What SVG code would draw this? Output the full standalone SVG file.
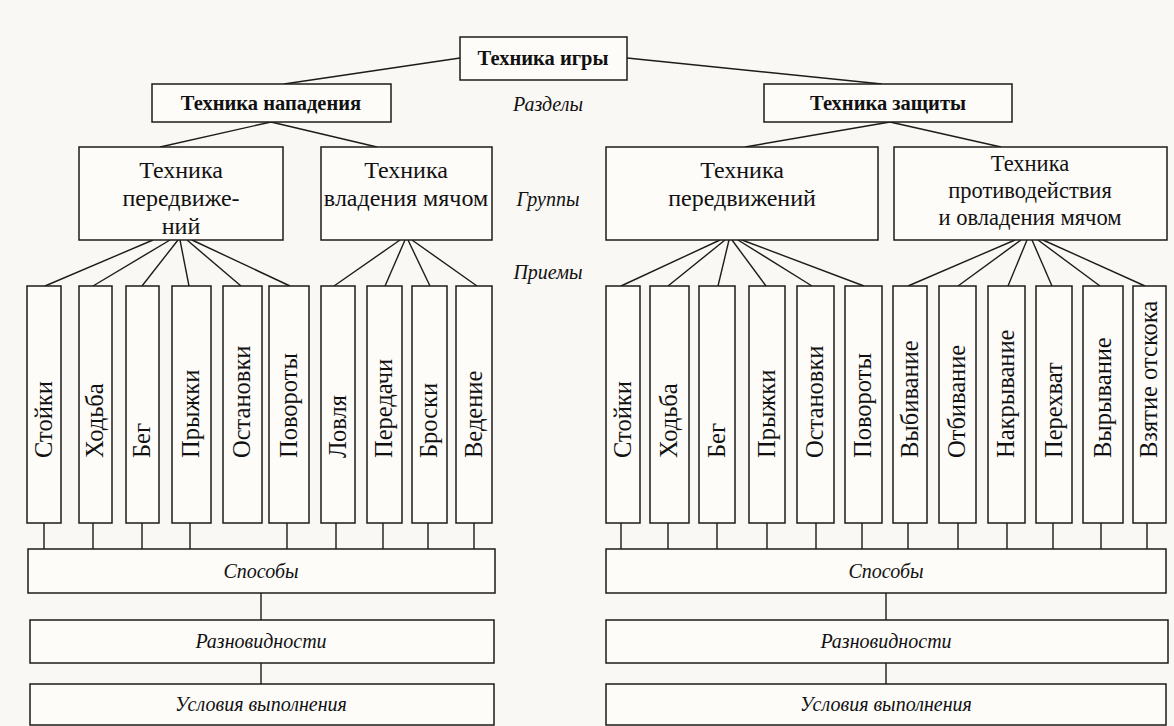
<svg xmlns="http://www.w3.org/2000/svg" width="1174" height="726" viewBox="0 0 1174 726">
<style>
.b{fill:#fdfcf9;stroke:#1e1b18;stroke-width:1.5}
.c line,.c path{stroke:#1e1b18;stroke-width:1.4;fill:none}
.tb{font-family:"Liberation Serif",serif;font-weight:bold;font-size:20.5px;fill:#111;text-anchor:middle}
.tr{font-family:"Liberation Serif",serif;font-size:24px;fill:#111;text-anchor:middle}
.ts{font-size:22.5px}
.ti{font-family:"Liberation Serif",serif;font-style:italic;font-size:20px;fill:#111;text-anchor:middle}
.tv{font-family:"Liberation Serif",serif;font-size:24.5px;fill:#111}
</style>
<rect x="0" y="0" width="1174" height="726" fill="#faf8f4"/>
<g class="c" id="connectors">
<line x1="460" y1="58" x2="284" y2="84"/>
<line x1="627" y1="58" x2="882" y2="84"/>
<line x1="271" y1="122" x2="160" y2="147"/>
<line x1="271" y1="122" x2="377" y2="147"/>
<line x1="890" y1="122" x2="745" y2="147"/>
<line x1="890" y1="122" x2="1001" y2="147"/>
<line x1="153" y1="240" x2="45" y2="286"/>
<line x1="170" y1="240" x2="93" y2="286"/>
<line x1="178" y1="240" x2="142" y2="286"/>
<line x1="180" y1="240" x2="189" y2="286"/>
<line x1="187" y1="240" x2="241" y2="286"/>
<line x1="192" y1="240" x2="290" y2="286"/>
<line x1="400" y1="240" x2="334" y2="286"/>
<line x1="405" y1="240" x2="385" y2="286"/>
<line x1="408" y1="240" x2="430" y2="286"/>
<line x1="412" y1="240" x2="477" y2="286"/>
<line x1="720" y1="240" x2="621" y2="286"/>
<line x1="725" y1="240" x2="668" y2="286"/>
<line x1="729" y1="240" x2="718" y2="286"/>
<line x1="732" y1="240" x2="766" y2="286"/>
<line x1="738" y1="240" x2="812" y2="286"/>
<line x1="742" y1="240" x2="864" y2="286"/>
<line x1="1015" y1="240" x2="908" y2="286"/>
<line x1="1021" y1="240" x2="958" y2="286"/>
<line x1="1027" y1="240" x2="1008" y2="286"/>
<line x1="1032" y1="240" x2="1052" y2="286"/>
<line x1="1038" y1="240" x2="1100" y2="286"/>
<line x1="1043" y1="240" x2="1145" y2="286"/>
<path d="M44 523V549M93 523V549M142 523V549M190 523V549M287 523V549M336 523V549M383 523V549M428 523V549M474 523V549"/>
<path d="M621 523V549M668 523V549M717 523V549M767 523V549M816 523V549M862 523V549M908 523V549M958 523V549M1007 523V549M1053 523V549M1101 523V549M1147 523V549"/>
<line x1="261" y1="593" x2="261" y2="620"/>
<line x1="261" y1="663" x2="261" y2="684"/>
<line x1="886" y1="593" x2="886" y2="620"/>
<line x1="886" y1="663" x2="886" y2="684"/>
</g>
<g id="n-game"><rect class="b" x="460" y="37" width="167" height="43"/><text class="tb" x="543" y="65">Техника игры</text></g>
<g id="n-attack"><rect class="b" x="152" y="84" width="239" height="38"/><text class="tb" x="271" y="110">Техника нападения</text></g>
<g id="n-defense"><rect class="b" x="764" y="84" width="248" height="38"/><text class="tb" x="888" y="110">Техника защиты</text></g>
<g id="lbl-razdely"><text class="ti" x="548" y="111">Разделы</text></g>
<g id="lbl-gruppy"><text class="ti" x="548" y="206">Группы</text></g>
<g id="lbl-priemy"><text class="ti" x="548" y="279">Приемы</text></g>
<g id="n-a-move"><rect class="b" x="79" y="147" width="204" height="93"/><text class="tr" x="181" y="178">Техника</text><text class="tr" x="181" y="206">передвиже-</text><text class="tr" x="181" y="234">ний</text></g>
<g id="n-a-ball"><rect class="b" x="321" y="147" width="171" height="93"/><text class="tr" x="406" y="178">Техника</text><text class="tr" x="406" y="206">владения мячом</text></g>
<g id="n-d-move"><rect class="b" x="606" y="147" width="272" height="93"/><text class="tr" x="742" y="178">Техника</text><text class="tr" x="742" y="206">передвижений</text></g>
<g id="n-d-ball"><rect class="b" x="894" y="147" width="273" height="93"/><text class="tr ts" x="1030" y="171">Техника</text><text class="tr ts" x="1030" y="198">противодействия</text><text class="tr ts" x="1030" y="225">и овладения мячом</text></g>
<g id="v-a1"><rect class="b" x="27" y="286" width="34" height="237"/><text class="tv" transform="translate(52,458) rotate(-90)">Стойки</text></g>
<g id="v-a2"><rect class="b" x="79" y="286" width="33" height="237"/><text class="tv" transform="translate(103,458) rotate(-90)">Ходьба</text></g>
<g id="v-a3"><rect class="b" x="126" y="286" width="33" height="237"/><text class="tv" transform="translate(150,458) rotate(-90)">Бег</text></g>
<g id="v-a4"><rect class="b" x="172" y="286" width="39" height="237"/><text class="tv" transform="translate(199,458) rotate(-90)">Прыжки</text></g>
<g id="v-a5"><rect class="b" x="223" y="286" width="39" height="237"/><text class="tv" transform="translate(250,458) rotate(-90)">Остановки</text></g>
<g id="v-a6"><rect class="b" x="269" y="286" width="40" height="237"/><text class="tv" transform="translate(297,458) rotate(-90)">Повороты</text></g>
<g id="v-a7"><rect class="b" x="321" y="286" width="34" height="237"/><text class="tv" transform="translate(346,458) rotate(-90)">Ловля</text></g>
<g id="v-a8"><rect class="b" x="367" y="286" width="35" height="237"/><text class="tv" transform="translate(392,458) rotate(-90)">Передачи</text></g>
<g id="v-a9"><rect class="b" x="412" y="286" width="35" height="237"/><text class="tv" transform="translate(437,458) rotate(-90)">Броски</text></g>
<g id="v-a10"><rect class="b" x="456" y="286" width="36" height="237"/><text class="tv" transform="translate(482,458) rotate(-90)">Ведение</text></g>
<g id="v-d1"><rect class="b" x="606" y="286" width="34" height="237"/><text class="tv" transform="translate(631,458) rotate(-90)">Стойки</text></g>
<g id="v-d2"><rect class="b" x="650" y="286" width="39" height="237"/><text class="tv" transform="translate(677,458) rotate(-90)">Ходьба</text></g>
<g id="v-d3"><rect class="b" x="699" y="286" width="36" height="237"/><text class="tv" transform="translate(725,458) rotate(-90)">Бег</text></g>
<g id="v-d4"><rect class="b" x="749" y="286" width="36" height="237"/><text class="tv" transform="translate(775,458) rotate(-90)">Прыжки</text></g>
<g id="v-d5"><rect class="b" x="797" y="286" width="37" height="237"/><text class="tv" transform="translate(823,458) rotate(-90)">Остановки</text></g>
<g id="v-d6"><rect class="b" x="845" y="286" width="37" height="237"/><text class="tv" transform="translate(871,458) rotate(-90)">Повороты</text></g>
<g id="v-d7"><rect class="b" x="893" y="286" width="34" height="237"/><text class="tv" transform="translate(918,458) rotate(-90)">Выбивание</text></g>
<g id="v-d8"><rect class="b" x="939" y="286" width="37" height="237"/><text class="tv" transform="translate(965,458) rotate(-90)">Отбивание</text></g>
<g id="v-d9"><rect class="b" x="988" y="286" width="37" height="237"/><text class="tv" transform="translate(1014,458) rotate(-90)">Накрывание</text></g>
<g id="v-d10"><rect class="b" x="1036" y="286" width="36" height="237"/><text class="tv" transform="translate(1062,458) rotate(-90)">Перехват</text></g>
<g id="v-d11"><rect class="b" x="1083" y="286" width="40" height="237"/><text class="tv" transform="translate(1111,458) rotate(-90)">Вырывание</text></g>
<g id="v-d12"><rect class="b" x="1133" y="286" width="33" height="237"/><text class="tv" transform="translate(1157,458) rotate(-90)">Взятие отскока</text></g>
<g id="n-a-sposoby"><rect class="b" x="28" y="549" width="467" height="44"/><text class="ti" x="261" y="578">Способы</text></g>
<g id="n-a-raznov"><rect class="b" x="30" y="620" width="464" height="43"/><text class="ti" x="261" y="648">Разновидности</text></g>
<g id="n-a-uslov"><rect class="b" x="30" y="684" width="464" height="41"/><text class="ti" x="261" y="711">Условия выполнения</text></g>
<g id="n-d-sposoby"><rect class="b" x="606" y="549" width="560" height="44"/><text class="ti" x="886" y="578">Способы</text></g>
<g id="n-d-raznov"><rect class="b" x="606" y="620" width="562" height="43"/><text class="ti" x="886" y="648">Разновидности</text></g>
<g id="n-d-uslov"><rect class="b" x="606" y="684" width="560" height="41"/><text class="ti" x="886" y="711">Условия выполнения</text></g>
</svg>
